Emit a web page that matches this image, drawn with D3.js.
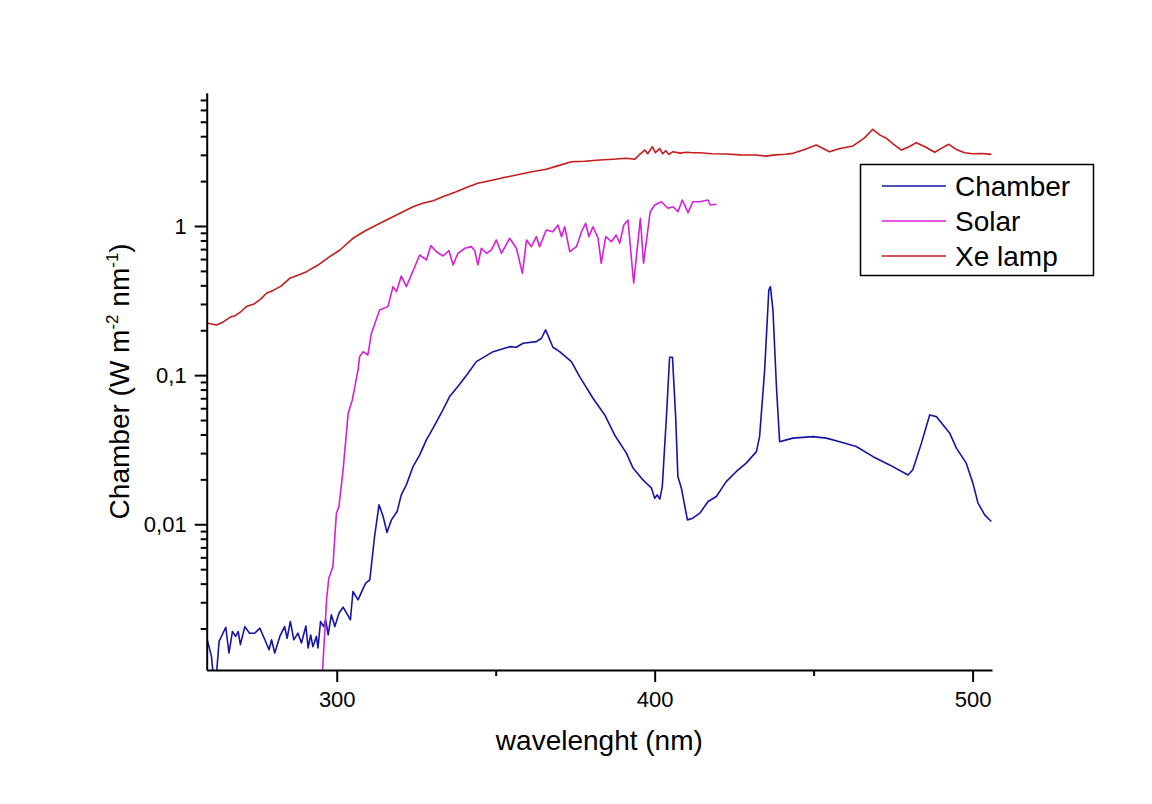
<!DOCTYPE html>
<html><head><meta charset="utf-8">
<script src="https://cdn.jsdelivr.net/npm/d3@7"></script>
<style>
body{margin:0;background:#fff}
text{font-family:"Liberation Sans",Arial,sans-serif;fill:#000}
</style></head>
<body><svg id="chart" width="1152" height="804"></svg>
<script>
// ---------- data ----------
const seriesNames = ["Chamber", "Solar", "Xe lamp"];
const seriesColors = ["#1515a3", "#d81fd8", "#c41c1c"];

const chamberWavelength = [259.2,260.6,261.1,262.2,263.0,265.1,266.1,267.2,268.2,269.0,269.7,271.1,272.6,274.2,275.8,277.4,278.7,279.5,280.5,282.1,283.6,284.4,285.4,286.5,287.8,288.9,290.3,291.0,291.8,292.5,293.6,294.1,294.9,295.9,296.5,297.3,298.3,299.4,300.7,302.0,304.3,305.1,306.7,308.1,309.1,310.4,311.9,313.3,314.6,315.8,317.2,319.0,320.3,321.9,324.0,326.1,328.2,330.3,333.4,335.5,338.1,341.3,343.9,349.2,354.4,356.5,358.6,362.8,364.4,365.7,368.0,370.1,373.8,376.4,380.6,384.3,387.4,391.1,393.2,395.8,397.4,399.0,400.0,400.8,401.6,402.4,403.7,404.7,405.6,406.6,407.3,408.4,410.3,412.0,414.2,416.8,419.4,422.5,425.7,428.8,432.0,433.0,434.6,435.9,436.4,437.2,438.3,439.3,441.4,443.5,449.8,454.0,458.2,463.4,468.7,473.9,479.7,481.2,483.9,486.5,488.6,492.8,494.9,498.0,500.1,501.7,503.8,505.9];
const chamberIrradiance = [0.00170,0.00130,0.00100,0.00100,0.00164,0.00204,0.00137,0.00191,0.00177,0.00191,0.00156,0.00206,0.00186,0.00186,0.00201,0.00168,0.00144,0.00168,0.00137,0.00177,0.00206,0.00172,0.00223,0.00168,0.00186,0.00160,0.00208,0.00148,0.00181,0.00151,0.00177,0.00148,0.00223,0.00206,0.00229,0.00181,0.00247,0.00206,0.00253,0.00278,0.00229,0.00354,0.00311,0.00363,0.00403,0.00424,0.00828,0.01349,0.01127,0.00880,0.01070,0.01217,0.01574,0.01837,0.02437,0.02918,0.0368,0.0441,0.0585,0.0718,0.0838,0.1030,0.1232,0.1437,0.1552,0.1538,0.1636,0.1678,0.1767,0.2010,0.1538,0.1437,0.1232,0.0977,0.0700,0.0541,0.0397,0.0300,0.0238,0.0204,0.01885,0.01746,0.01496,0.01574,0.01473,0.0179,0.0527,0.1318,0.1318,0.0527,0.0209,0.01746,0.01070,0.01098,0.01187,0.01420,0.01534,0.0193,0.0226,0.0257,0.0307,0.0387,0.1084,0.372,0.392,0.2735,0.0838,0.0358,0.0368,0.0378,0.0387,0.0378,0.0358,0.0332,0.0284,0.0250,0.0214,0.0232,0.0350,0.0541,0.0527,0.0408,0.0324,0.0257,0.01885,0.01385,0.01156,0.01043];

const solarWavelength = [295.5,296.8,297.5,298.8,299.4,299.9,300.7,302.0,303.6,304.9,306.7,307.2,308.3,309.8,310.9,313.5,316.1,317.7,318.8,320.3,321.9,326.1,328.2,329.6,331.4,333.4,335.3,336.6,338.1,340.3,342.4,343.4,344.4,345.5,347.1,348.6,350.2,351.8,354.4,356.5,358.4,359.7,361.2,362.8,363.8,365.9,368.0,369.6,370.7,371.7,373.3,375.4,377.0,378.3,379.3,380.6,382.2,383.2,384.6,386.4,387.9,389.0,390.3,391.6,393.4,395.5,396.5,398.6,400.0,402.1,404.2,405.8,407.3,408.7,410.5,412.0,414.2,416.8,417.5,419.4];
const solarIrradiance = [0.00100,0.00311,0.00435,0.00520,0.00828,0.01187,0.01315,0.02317,0.0556,0.0682,0.1084,0.133,0.1437,0.1365,0.191,0.2735,0.288,0.392,0.363,0.462,0.392,0.639,0.592,0.738,0.672,0.629,0.683,0.548,0.656,0.709,0.727,0.683,0.548,0.709,0.656,0.690,0.806,0.656,0.827,0.709,0.482,0.806,0.727,0.848,0.727,0.940,0.916,1.015,0.848,0.989,0.672,0.727,0.916,1.043,0.848,0.989,0.827,0.562,0.848,0.785,0.870,0.766,1.015,1.097,0.413,1.126,0.562,1.247,1.383,1.455,1.314,1.346,1.247,1.494,1.228,1.455,1.455,1.494,1.383,1.398];

const xeWavelength = [259.5,262.2,264,266.4,268,270,271.6,274,276,277.9,280,282.5,285.2,288,290.5,294,297.8,301,305.1,309,312.5,315,317.7,321,324,327,330.3,334,337.6,341,344.4,349.2,353,356.5,361,365.9,370,373.8,378,382.7,387,391.1,393.7,395.5,396.9,397.8,399.3,400.2,401.6,402.5,403.5,404.5,405.8,408,410,412,414.2,418,422.5,427,432,435,438,441,443.5,447,450.8,455,458,462.4,466,468.6,471,472.9,475,477.6,480,482.3,485,488.1,490,492.5,495,497.5,500,503,505.9];
const xeIrradiance = [0.223,0.217,0.225,0.244,0.250,0.268,0.288,0.300,0.322,0.354,0.370,0.395,0.446,0.470,0.494,0.545,0.623,0.690,0.827,0.93,1.015,1.08,1.154,1.25,1.346,1.42,1.478,1.59,1.698,1.82,1.932,2.033,2.12,2.197,2.30,2.399,2.55,2.697,2.72,2.768,2.80,2.843,2.80,3.05,3.23,3.05,3.40,3.10,3.30,3.05,3.20,3.02,3.15,3.08,3.12,3.10,3.10,3.05,3.04,3.00,2.99,2.94,3.00,3.03,3.07,3.25,3.49,3.15,3.30,3.44,3.90,4.45,4.05,3.87,3.55,3.23,3.40,3.62,3.40,3.12,3.30,3.53,3.25,3.10,3.05,3.06,3.02];

const xMajorTicks = [300, 400, 500];
const xMinorTicks = [350, 450];
const yMajorTicks = [0.01, 0.1, 1];
const yTickLabels = ["0,01", "0,1", "1"];
const xTitle = "wavelenght (nm)";

// ---------- layout ----------
const svg = d3.select("#chart");
const pLeft = 206.7, pRight = 992, pTop = 92.7, pBottom = 670;

const x = d3.scaleLinear().domain([259.1, 506.1]).range([pLeft, pRight]);
const y = d3.scaleLog().domain([0.001054, 7.83]).range([pBottom, pTop]);

const yMinor = [];
[0.001, 0.01, 0.1, 1].forEach(dec => {
  for (let k = 2; k <= 9; k++) {
    const v = dec * k;
    if (v >= y.domain()[0] && v <= y.domain()[1]) yMinor.push(v);
  }
});

svg.append("defs").append("clipPath").attr("id", "plot")
  .append("rect").attr("x", pLeft).attr("y", pTop).attr("width", pRight - pLeft).attr("height", pBottom - pTop);

const series = [
  {wl: chamberWavelength, v: chamberIrradiance},
  {wl: solarWavelength, v: solarIrradiance},
  {wl: xeWavelength, v: xeIrradiance}
];
const line = d3.line().x(d => x(d[0])).y(d => y(d[1]));
const g = svg.append("g").attr("clip-path", "url(#plot)");
series.forEach((s, i) => {
  const pts = s.wl.map((w, j) => [w, s.v[j]]);
  g.append("path").datum(pts).attr("d", line)
    .attr("fill", "none").attr("stroke", seriesColors[i])
    .attr("stroke-width", 1.6).attr("stroke-linejoin", "round");
});

function styleAxis(sel) {
  sel.select(".domain").attr("stroke", "#000").attr("stroke-width", 2);
  sel.selectAll(".tick line").attr("stroke", "#000").attr("stroke-width", 2);
  sel.selectAll(".tick text").attr("font-size", 22).attr("font-family", "Liberation Sans, Arial, sans-serif");
}
const xAxisMinor = svg.append("g").attr("transform", `translate(0,${pBottom})`)
  .call(d3.axisBottom(x).tickValues(xMinorTicks).tickSize(6).tickSizeOuter(0).tickFormat(""));
xAxisMinor.select(".domain").remove();
xAxisMinor.selectAll(".tick line").attr("stroke-width", 2);
const xAxis = svg.append("g").attr("transform", `translate(0,${pBottom})`)
  .call(d3.axisBottom(x).tickValues(xMajorTicks).tickSize(12).tickSizeOuter(0).tickPadding(9).tickFormat(d3.format("d")));
styleAxis(xAxis);

const yAxisMinor = svg.append("g").attr("transform", `translate(${pLeft},0)`)
  .call(d3.axisLeft(y).tickValues(yMinor).tickSize(6).tickSizeOuter(0).tickFormat(""));
yAxisMinor.select(".domain").remove();
yAxisMinor.selectAll(".tick line").attr("stroke-width", 2);
const yAxis = svg.append("g").attr("transform", `translate(${pLeft},0)`)
  .call(d3.axisLeft(y).tickValues(yMajorTicks).tickSize(12).tickSizeOuter(0).tickPadding(8)
    .tickFormat((d, i) => yTickLabels[i]));
styleAxis(yAxis);

svg.append("text").attr("x", (pLeft + pRight) / 2).attr("y", 750)
  .attr("text-anchor", "middle").attr("font-size", 28).text(xTitle);

const yt = svg.append("text").attr("transform", `translate(129,${(pTop + pBottom) / 2}) rotate(-90)`)
  .attr("text-anchor", "middle").attr("font-size", 28);
yt.append("tspan").text("Chamber (W m");
yt.append("tspan").attr("dy", -11).attr("font-size", 17).text("-2");
yt.append("tspan").attr("dy", 11).text(" nm");
yt.append("tspan").attr("dy", -11).attr("font-size", 17).text("-1");
yt.append("tspan").attr("dy", 11).text(")");

const lg = svg.append("g");
lg.append("rect").attr("x", 860.5).attr("y", 164.5).attr("width", 233).attr("height", 111)
  .attr("fill", "#fff").attr("stroke", "#000").attr("stroke-width", 1.5);
seriesNames.forEach((name, i) => {
  const cy = 186 + i * 35;
  lg.append("line").attr("x1", 882).attr("x2", 946).attr("y1", cy).attr("y2", cy)
    .attr("stroke", seriesColors[i]).attr("stroke-width", 1.6);
  lg.append("text").attr("x", 955).attr("y", cy + 10).attr("font-size", 28).text(name);
});
</script></body></html>
